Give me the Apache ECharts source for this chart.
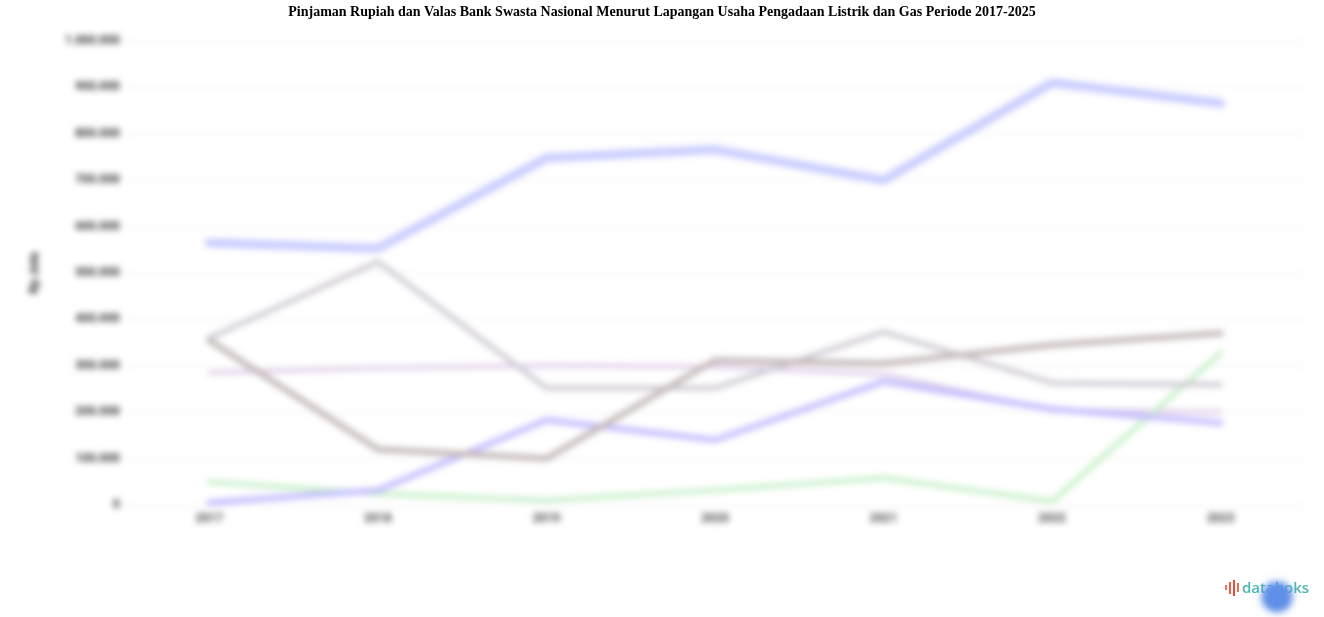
<!DOCTYPE html>
<html>
<head>
<meta charset="utf-8">
<script src="https://cdn.jsdelivr.net/npm/echarts@6/dist/echarts.min.js"></script>
<style>
html,body{margin:0;padding:0;background:#fff;}
#toplayer{position:absolute;left:0;top:0;width:1324px;height:617px;z-index:1;}
#chart{position:absolute;left:0;top:0;width:1324px;height:617px;z-index:2;filter:blur(3.2px);}
</style>
</head>
<body>
<div id="toplayer"></div>
<div id="chart"></div>
<script>
const titleText = 'Pinjaman Rupiah dan Valas Bank Swasta Nasional Menurut Lapangan Usaha Pengadaan Listrik dan Gas Periode 2017-2025';
const categories = ['2017','2018','2019','2020','2021','2022','2023'];
const yTicks = [0,100000,200000,300000,400000,500000,600000,700000,800000,900000,1000000];
const yAxisName = 'Rp Juta';
const seriesA = [565000, 553000, 748000, 766000, 700000, 910000, 866000];
const seriesB = [360000, 524000, 252000, 252000, 373000, 263000, 259000];
const seriesC = [355000, 120000, 100000, 312000, 305000, 345000, 370000];
const seriesD = [285000, 295000, 300000, 298000, 282000, 205000, 200000];
const seriesE = [5000, 32000, 183000, 140000, 266000, 207000, 177000];
const seriesF = [50000, 24000, 10000, 32000, 58000, 8000, 328000];

function fmt(v){ return String(v).replace(/\B(?=(\d{3})+(?!\d))/g,'.'); }

const topChart = echarts.init(document.getElementById('toplayer'), null, {renderer:'canvas'});
topChart.setOption({
  animation:false,
  title:{text:titleText,left:'center',top:0,textStyle:{fontFamily:'Liberation Serif',fontWeight:'bold',fontSize:14,color:'#000'}},
  graphic:[
    {type:'rect',shape:{x:1225,y:585,width:2,height:5},style:{fill:'#f0734f'}},
    {type:'rect',shape:{x:1229,y:582,width:2,height:12},style:{fill:'#ee5a45'}},
    {type:'rect',shape:{x:1233,y:580,width:2,height:16},style:{fill:'#e8493c'}},
    {type:'rect',shape:{x:1237,y:583,width:2,height:9},style:{fill:'#f26d4c'}},
    {type:'text',style:{x:1242,y:589,text:'databoks',fill:'#4fb7b1',font:'600 15px "Open Sans", sans-serif',textVerticalAlign:'middle'}}
  ]
});

const chart = echarts.init(document.getElementById('chart'), null, {renderer:'canvas'});
function line(data,color,width){
  return {type:'line',data:data,symbol:'none',smooth:false,lineStyle:{color:color,width:width,cap:'round',join:'round'},itemStyle:{color:color}};
}
chart.setOption({
  animation:false,
  backgroundColor:'transparent',
  grid:{left:125,right:19,top:41,bottom:112},
  xAxis:{type:'category',data:categories,boundaryGap:true,
    axisLine:{show:false},axisTick:{show:false},
    axisLabel:{color:'#444',fontSize:12,fontWeight:'bold',margin:8,fontFamily:'Roboto'}},
  yAxis:{type:'value',min:yTicks[0],max:yTicks[yTicks.length-1],interval:yTicks[1]-yTicks[0],
    name:yAxisName,nameLocation:'middle',nameGap:84,nameTextStyle:{color:'#222',fontWeight:'bold',fontSize:12,fontFamily:'Roboto'},
    axisLabel:{color:'#333',fontSize:12,fontWeight:'bold',margin:5,formatter:fmt,fontFamily:'Roboto'},
    splitLine:{lineStyle:{color:'#eeeeee',width:1}},axisLine:{show:false},axisTick:{show:false}},
  series:[
    line(seriesD,'#dccbe6',4),
    line(seriesF,'#c8f0c8',5),
    line(seriesE,'#c4bdff',6),
    line(seriesB,'#cecad4',5),
    line(seriesC,'#c4b9b9',6),
    line(seriesA,'#cacdff',9)
  ],
  graphic:[
    {type:'circle',shape:{cx:1277,cy:597,r:15},style:{fill:'#5f8fe8',shadowColor:'rgba(95,143,232,0.6)',shadowBlur:6}}
  ]
});
</script>
</body>
</html>
